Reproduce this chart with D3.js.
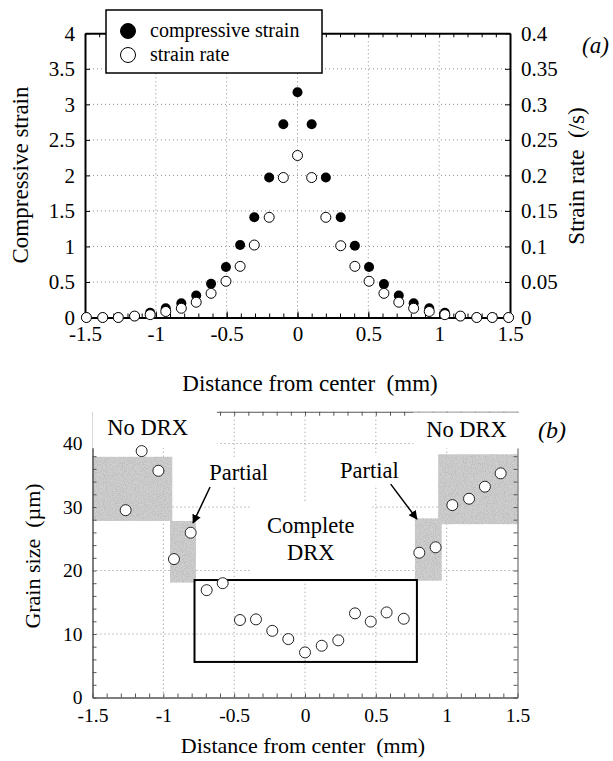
<!DOCTYPE html>
<html>
<head>
<meta charset="utf-8">
<script src="https://cdn.jsdelivr.net/npm/d3@7"></script>
<style>
  body { margin: 0; background: #fff; }
  svg { display: block; font-family: "Liberation Serif", "Times New Roman", serif; }
</style>
</head>
<body>
<svg id="chart" width="613" height="761"></svg>
<script>
// ---- panel (a): strain and strain rate along the specimen ----
const distA = [-1.49, -1.375, -1.265, -1.15, -1.04, -0.93, -0.82, -0.715, -0.61, -0.505, -0.405, -0.305, -0.2, -0.1, 0,
               0.1, 0.2, 0.305, 0.405, 0.505, 0.61, 0.715, 0.82, 0.93, 1.04, 1.15, 1.265, 1.375, 1.49];
const strain = [0, 0, 0, 0.02, 0.066, 0.13, 0.2, 0.31, 0.475, 0.71, 1.02, 1.41, 1.97, 2.72, 3.17,
                2.72, 1.97, 1.41, 1.01, 0.71, 0.47, 0.31, 0.2, 0.13, 0.066, 0.02, 0, 0, 0];
const strainRate = [0, 0, 0, 0.002, 0.004, 0.0085, 0.013, 0.0215, 0.034, 0.051, 0.072, 0.102, 0.141, 0.197, 0.228,
                    0.197, 0.141, 0.101, 0.072, 0.051, 0.034, 0.0215, 0.013, 0.0085, 0.004, 0.002, 0, 0, 0];

const distTicks = [-1.5, -1, -0.5, 0, 0.5, 1, 1.5];
const distLabels = ["-1.5", "-1", "-0.5", "0", "0.5", "1", "1.5"];
const strainTicks = [0, 0.5, 1, 1.5, 2, 2.5, 3, 3.5, 4];
const strainLabels = ["0", "0.5", "1", "1.5", "2", "2.5", "3", "3.5", "4"];
const rateTicks = [0, 0.05, 0.1, 0.15, 0.2, 0.25, 0.3, 0.35, 0.4];
const rateLabels = ["0", "0.05", "0.1", "0.15", "0.2", "0.25", "0.3", "0.35", "0.4"];
const legendNames = ["compressive strain", "strain rate"];

// ---- panel (b): grain size ----
const distB = [-1.266, -1.153, -1.035, -0.925, -0.807, -0.694, -0.581, -0.459, -0.346, -0.231, -0.118, 0,
               0.118, 0.235, 0.353, 0.464, 0.576, 0.697, 0.807, 0.922, 1.04, 1.158, 1.27, 1.381];
const grain = [29.5, 38.8, 35.7, 21.8, 25.95, 16.9, 18.0, 12.2, 12.3, 10.5, 9.2, 7.1,
               8.15, 9.0, 13.25, 11.95, 13.4, 12.4, 22.8, 23.65, 30.3, 31.3, 33.2, 35.3];
const grainTicks = [0, 10, 20, 30, 40];
// shaded zones: [x0, x1, y0, y1]
const zones = [[-1.5, -0.937, 27.8, 37.9], [-0.953, -0.77, 18.1, 27.8],
               [0.776, 0.965, 18.4, 28.2], [0.94, 1.5, 27.3, 38.3]];
const drxBox = [-0.78, 0.79, 5.6, 18.5];

const svg = d3.select("#chart");
const serif = '"Liberation Serif", "Times New Roman", serif';

function styleAxis(g, size, width, color) {
  g.attr("font-family", serif).attr("font-size", size);
  g.selectAll(".domain").attr("stroke", color).attr("stroke-width", width);
  g.selectAll(".tick line").attr("stroke", color);
  g.selectAll(".tick text").attr("fill", "#000");
}

// stipple texture for the shaded zones
const defs = svg.append("defs");
const flt = defs.append("filter").attr("id", "stipple").attr("x", 0).attr("y", 0).attr("width", 1).attr("height", 1);
flt.append("feTurbulence").attr("type", "fractalNoise").attr("baseFrequency", 1.1).attr("numOctaves", 1).attr("seed", 4).attr("result", "n");
flt.append("feColorMatrix").attr("in", "n").attr("type", "matrix")
  .attr("values", "0 0 0 0 0.45  0 0 0 0 0.45  0 0 0 0 0.45  0 0 0 2.2 -0.9").attr("result", "dots");
flt.append("feComposite").attr("in", "dots").attr("in2", "SourceGraphic").attr("operator", "in").attr("result", "d2");
const mrg = flt.append("feMerge");
mrg.append("feMergeNode").attr("in", "SourceGraphic");
mrg.append("feMergeNode").attr("in", "d2");

// ================= panel (a) =================
const xA = d3.scaleLinear().domain([-1.5, 1.5]).range([85, 510]);
const yA = d3.scaleLinear().domain([0, 4]).range([317.5, 33.3]);
const yR = d3.scaleLinear().domain([0, 0.4]).range([317.5, 33.3]);
const minorA = d3.range(-15, 16).map(i => i / 10);

const gridA = svg.append("g").attr("stroke", "#8c8c8c").attr("stroke-dasharray", "1,3");
gridA.selectAll(".gx").data(distTicks.slice(1, -1)).join("line")
  .attr("x1", d => xA(d)).attr("x2", d => xA(d)).attr("y1", yA(4)).attr("y2", yA(0));
gridA.selectAll(".gy").data(strainTicks.slice(1, -1)).join("line")
  .attr("x1", xA(-1.5)).attr("x2", xA(1.5)).attr("y1", d => yA(d)).attr("y2", d => yA(d));

// axes
svg.append("g").attr("transform", `translate(0,${yA(4)})`)
  .call(d3.axisTop(xA).tickValues(minorA).tickFormat("").tickSize(-4).tickSizeOuter(0))
  .call(g => styleAxis(g, 21, 2, "#000"));
svg.append("g").attr("transform", `translate(0,${yA(0)})`)
  .call(d3.axisBottom(xA).tickValues(minorA).tickFormat("").tickSize(-4).tickSizeOuter(0))
  .call(g => styleAxis(g, 21, 2, "#000"));
svg.append("g").attr("transform", `translate(0,${yA(0)})`)
  .call(d3.axisBottom(xA).tickValues(distTicks).tickFormat((d, i) => distLabels[i]).tickSize(-6).tickSizeOuter(0).tickPadding(9))
  .call(g => styleAxis(g, 21, 2, "#000"));
svg.append("g").attr("transform", `translate(${xA(-1.5)},0)`)
  .call(d3.axisLeft(yA).tickValues(strainTicks).tickFormat((d, i) => strainLabels[i]).tickSize(-5).tickSizeOuter(0).tickPadding(10))
  .call(g => styleAxis(g, 21, 2, "#000"));
svg.append("g").attr("transform", `translate(${xA(1.5)},0)`)
  .call(d3.axisRight(yR).tickValues(rateTicks).tickFormat((d, i) => rateLabels[i]).tickSize(-5).tickSizeOuter(0).tickPadding(11))
  .call(g => styleAxis(g, 21, 2, "#000"));

// points: filled = strain, open = strain rate (drawn on top)
svg.append("g").selectAll("circle").data(distA).join("circle")
  .attr("cx", d => xA(d)).attr("cy", (d, i) => yA(strain[i])).attr("r", 5).attr("fill", "#000");
svg.append("g").selectAll("circle").data(distA).join("circle")
  .attr("cx", d => xA(d)).attr("cy", (d, i) => yR(strainRate[i])).attr("r", 5)
  .attr("fill", "#fff").attr("stroke", "#000").attr("stroke-width", 1);

// legend
const leg = svg.append("g").attr("transform", "translate(106,10)");
leg.append("rect").attr("width", 216).attr("height", 63).attr("fill", "#fff").attr("stroke", "#000").attr("stroke-width", 1.5);
leg.selectAll("circle").data(legendNames).join("circle")
  .attr("cx", 22).attr("cy", (d, i) => 21 + i * 24).attr("r", 7.5)
  .attr("fill", (d, i) => i ? "#fff" : "#000").attr("stroke", "#000").attr("stroke-width", 1);
leg.selectAll("text").data(legendNames).join("text")
  .attr("x", 44).attr("y", (d, i) => 27 + i * 24).attr("font-size", 20).text(d => d);

// titles
svg.append("text").attr("transform", "translate(28,175) rotate(-90)").attr("text-anchor", "middle")
  .attr("font-size", 23).text("Compressive strain");
svg.append("text").attr("transform", "translate(584,176) rotate(-90)").attr("text-anchor", "middle")
  .attr("font-size", 23).attr("xml:space", "preserve").text("Strain rate  (/s)");
svg.append("text").attr("x", 310).attr("y", 391).attr("text-anchor", "middle")
  .attr("font-size", 23).attr("xml:space", "preserve").text("Distance from center  (mm)");
svg.append("text").attr("x", 582).attr("y", 53).attr("font-size", 23).attr("font-style", "italic").text("(a)");

// ================= panel (b) =================
const xB = d3.scaleLinear().domain([-1.5, 1.5]).range([92.5, 517.5]);
const yB = d3.scaleLinear().domain([0, 45]).range([697.5, 411.75]);
const minorB = d3.range(-15, 16).map(i => i / 10);
const minorGrain = d3.range(0, 46, 2);

const gridB = svg.append("g").attr("stroke", "#8c8c8c").attr("stroke-dasharray", "1,3");
gridB.selectAll(".gx").data(distTicks.slice(1, -1)).join("line")
  .attr("x1", d => xB(d)).attr("x2", d => xB(d)).attr("y1", yB(45)).attr("y2", yB(0));
gridB.selectAll(".gy").data(grainTicks.slice(1)).join("line")
  .attr("x1", xB(-1.5)).attr("x2", xB(1.5)).attr("y1", d => yB(d)).attr("y2", d => yB(d));

// shaded zones
svg.append("g").selectAll("rect").data(zones).join("rect")
  .attr("x", d => xB(d[0])).attr("width", d => xB(d[1]) - xB(d[0]))
  .attr("y", d => yB(d[3])).attr("height", d => yB(d[2]) - yB(d[3]))
  .attr("fill", "#cfcfcf").attr("filter", "url(#stipple)");

// frame
const frameB = "#555";
svg.append("g").attr("transform", `translate(0,${yB(45)})`)
  .call(d3.axisTop(xB).tickValues(minorB).tickFormat("").tickSize(-4).tickSizeOuter(0))
  .call(g => styleAxis(g, 19.5, 1, frameB));
svg.append("g").attr("transform", `translate(0,${yB(0)})`)
  .call(d3.axisBottom(xB).tickValues(minorB).tickFormat("").tickSize(-4).tickSizeOuter(0))
  .call(g => styleAxis(g, 19.5, 1, frameB));
svg.append("g").attr("transform", `translate(0,${yB(0)})`)
  .call(d3.axisBottom(xB).tickValues(distTicks).tickFormat((d, i) => distLabels[i]).tickSize(0).tickSizeOuter(0).tickPadding(11))
  .call(g => styleAxis(g, 19.5, 1, frameB));
svg.append("g").attr("transform", `translate(${xB(-1.5)},0)`)
  .call(d3.axisLeft(yB).tickValues(minorGrain).tickFormat("").tickSize(-4).tickSizeOuter(0))
  .call(g => styleAxis(g, 19.5, 1, frameB));
svg.append("g").attr("transform", `translate(${xB(-1.5)},0)`)
  .call(d3.axisLeft(yB).tickValues(grainTicks).tickFormat(d => d).tickSize(0).tickSizeOuter(0).tickPadding(10))
  .call(g => styleAxis(g, 19.5, 1, frameB));
svg.append("g").attr("transform", `translate(${xB(1.5)},0)`)
  .call(d3.axisRight(yB).tickValues(minorGrain).tickFormat("").tickSize(-4).tickSizeOuter(0))
  .call(g => styleAxis(g, 19.5, 1, frameB));

// annotation labels with white backgrounds
const notes = svg.append("g").attr("font-size", 22.5);
function note(lines, x, y, pad) {
  const g = notes.append("g");
  const bg = g.append("rect").attr("fill", "#fff");
  const t = g.append("text").attr("text-anchor", "middle");
  lines.forEach((s, i) => t.append("tspan").attr("x", xB(x)).attr("y", yB(y) + i * 27).text(s));
  const b = t.node().getBBox();
  bg.attr("x", b.x - pad[0]).attr("y", b.y - pad[2]).attr("width", b.width + pad[0] + pad[1]).attr("height", b.height + pad[2] + pad[3]);
}
note(["No DRX"], -1.111, 41.3, [15, 29, 12, 8]);
note(["No DRX"], 1.14, 41.1, [13, 13, 4, 7]);
note(["Complete", "DRX"], 0.04, 25.9, [17, 16, 12, 14]);
note(["Partial"], -0.469, 34.25, [2, 2, 2, 2]);
note(["Partial"], 0.455, 34.6, [2, 2, 2, 2]);

// arrows
defs.append("marker").attr("id", "head").attr("viewBox", "0 0 10 10")
  .attr("refX", 9).attr("refY", 5).attr("markerWidth", 9).attr("markerHeight", 9)
  .attr("markerUnits", "userSpaceOnUse").attr("orient", "auto")
  .append("path").attr("d", "M0,0 L10,5 L0,10 Z").attr("fill", "#000");
const arrows = [[-0.67, 33.15, -0.79, 27.5], [0.605, 33.6, 0.79, 28.1]];
svg.append("g").selectAll("line").data(arrows).join("line")
  .attr("x1", d => xB(d[0])).attr("y1", d => yB(d[1])).attr("x2", d => xB(d[2])).attr("y2", d => yB(d[3]))
  .attr("stroke", "#000").attr("stroke-width", 1.5).attr("marker-end", "url(#head)");

// complete DRX box
svg.append("rect").attr("x", xB(drxBox[0])).attr("width", xB(drxBox[1]) - xB(drxBox[0]))
  .attr("y", yB(drxBox[3])).attr("height", yB(drxBox[2]) - yB(drxBox[3]))
  .attr("fill", "none").attr("stroke", "#000").attr("stroke-width", 2);

// grain size points
svg.append("g").selectAll("circle").data(distB).join("circle")
  .attr("cx", d => xB(d)).attr("cy", (d, i) => yB(grain[i])).attr("r", 5.5)
  .attr("fill", "#fff").attr("stroke", "#222").attr("stroke-width", 1);

// titles
svg.append("text").attr("transform", "translate(40,556) rotate(-90)").attr("text-anchor", "middle")
  .attr("font-size", 22).attr("xml:space", "preserve").text("Grain size  (µm)");
svg.append("text").attr("x", 303).attr("y", 753).attr("text-anchor", "middle")
  .attr("font-size", 22).attr("xml:space", "preserve").text("Distance from center  (mm)");
svg.append("text").attr("x", 538).attr("y", 438).attr("font-size", 24).attr("font-style", "italic").text("(b)");
</script>
</body>
</html>
